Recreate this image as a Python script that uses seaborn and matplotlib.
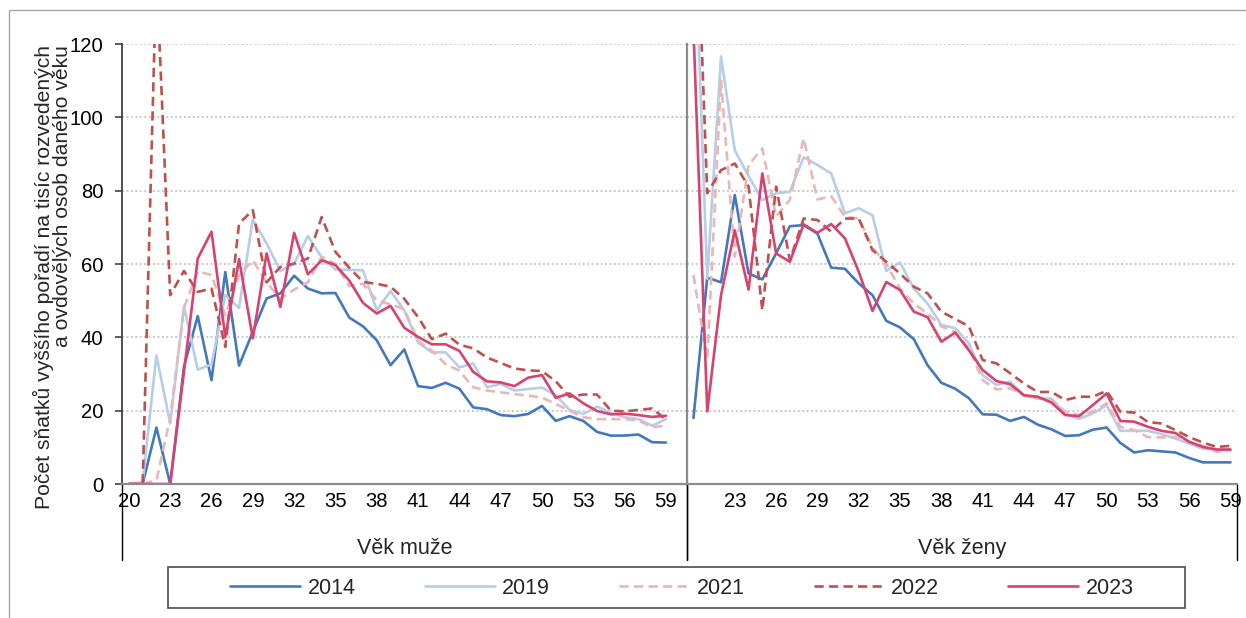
# Remarriage rates of divorced and widowed persons by age, men vs women
import matplotlib.pyplot as plt
import matplotlib.patches as mpatches
import pandas as pd
import seaborn as sns

ages = list(range(20, 60))
years = ['2014', '2019', '2021', '2022', '2023']

# values (per 1000 divorced/widowed persons)
men_2014 = [0, 0, 15.4, 0, 32, 45.8, 28.3, 57.8, 32.3, 41.5,
            50.6, 52, 56.8, 53.3, 52, 52.1, 45.4, 43, 39.2, 32.4,
            36.7, 26.7, 26.2, 27.6, 26, 20.9, 20.4, 18.8, 18.5, 19.1,
            21.3, 17.2, 18.5, 17.2, 14.2, 13.2, 13.2, 13.5, 11.4, 11.3]
men_2019 = [0, 0.5, 35.1, 16.5, 48.5, 31.2, 32.6, 51.5, 48, 72.1,
            65.6, 58.1, 60.1, 67.6, 61.8, 58.5, 58.4, 58.3, 47.4, 52.6,
            47.3, 38.6, 35.9, 35.9, 31.8, 32.9, 26.4, 27.3, 25.5, 25.9,
            26.3, 24.2, 20.2, 19.1, 21.1, 19.4, 18.2, 17.7, 15.9, 17.7]
men_2021 = [0, 0, 1, 18, 48, 58, 57, 46, 57, 61,
            55, 50.5, 53, 55, 62, 60, 54, 54.6, 50.1, 49,
            47.7, 39, 36.4, 32.7, 30.9, 26.4, 25.5, 25, 24.5, 24.1,
            23.6, 21.8, 20, 18.2, 17.7, 17.7, 17.7, 17.3, 15.5, 15.9]
men_2022 = [0, 0, 140, 51.5, 58.1, 52.4, 53.3, 37.4, 71, 74.7,
            55, 59.2, 60.1, 61.5, 72.8, 63.3, 59, 55.1, 54.6, 53.8,
            50.5, 45.5, 39.5, 41, 38, 37, 34.5, 33, 31.5, 31,
            30.8, 28, 23.8, 24.4, 24.4, 20, 19.8, 20.2, 20.6, 17.6]
men_2023 = [0, 0, 0, 0, 30.6, 61.5, 68.8, 40.1, 61.3, 39.7,
            62.9, 48.3, 68.5, 57.2, 61, 59.7, 55.5, 49.4, 46.5, 48.6,
            42.6, 40.1, 38.1, 38.1, 36.3, 30.6, 28, 27.7, 26.7, 29,
            29.7, 23.5, 24.7, 22, 19.9, 19, 19.2, 18.8, 18.3, 18.6]

women_2014 = [18, 56.3, 55, 78.8, 57.4, 55.8, 62.9, 70.3, 70.6, 68.3,
              59, 58.7, 54.7, 51.5, 44.5, 42.7, 39.5, 32.4, 27.6, 26,
              23.4, 19, 18.9, 17.2, 18.3, 16.2, 14.9, 13.1, 13.3, 14.8,
              15.4, 11.2, 8.6, 9.2, 8.9, 8.6, 7.1, 5.9, 5.9, 5.9]
women_2019 = [160, 56, 116.6, 91, 84, 77.4, 79.3, 79.7, 89.1, 87,
              84.7, 73.8, 75.2, 73.3, 58.1, 60.4, 53.3, 49.2, 43.4, 42.5,
              38.4, 29.7, 27, 27.9, 24.2, 23.3, 23.3, 19.2, 17.8, 19.2,
              21.5, 14.5, 14.5, 14.5, 13.6, 12.4, 11, 9.6, 9.4, 9.2]
women_2021 = [57, 34, 110, 62, 87, 91.5, 73, 77.5, 94.3, 77.6,
              78.5, 72.9, 72.4, 64.5, 60, 53.3, 49.2, 46.5, 43, 41.5,
              37, 28.3, 25.8, 26.1, 24.2, 23.3, 22.9, 19.7, 18.8, 19.7,
              22, 15.6, 14.7, 12.8, 12.7, 12.8, 11.5, 10.4, 8.7, 9.6]
women_2022 = [180, 79.3, 85.6, 87.4, 81.1, 47.4, 81.1, 61, 72.4, 72,
              68.8, 72.4, 72.4, 63.8, 60.6, 57.4, 53.8, 52, 47, 45,
              43, 33.8, 32.9, 30.2, 27.4, 25.1, 25.1, 22.9, 23.8, 23.8,
              25.4, 19.7, 19.5, 16.9, 16.5, 14.7, 12.8, 11.3, 10.1, 10.4]
women_2023 = [124, 19.8, 51.5, 69.2, 53, 84.7, 62.9, 60.6, 70.8, 68.5,
              70.9, 67, 57.9, 47.2, 55.1, 52.9, 47, 45.5, 38.8, 41.3,
              36.5, 31.1, 28.1, 27.2, 24.2, 23.8, 22.2, 18.8, 18.5, 21.5,
              24.7, 17.2, 17, 15.6, 14.5, 13.9, 11.5, 10.1, 9.4, 9.4]

men_ticks = list(range(20, 60, 3))
women_ticks = list(range(23, 60, 3))

ylabel_lines = ['Počet sňatků vyššího pořadí na tisíc rozvedených',
                'a ovdovělých osob daného věku']

colors = {'2014': '#4478BE', '2019': '#B7CDE8', '2021': '#E8B7B6',
          '2022': '#C0504D', '2023': '#D8426F'}
dash_styles = {'2014': '', '2019': '', '2021': (3.5, 2), '2022': (3.5, 2), '2023': ''}


def long_frame(series):
    """Turn {year: values} into a long dataframe for seaborn."""
    rows = []
    for year, values in series.items():
        for age, v in zip(ages, values):
            rows.append({'age': age, 'value': v, 'year': year})
    return pd.DataFrame(rows)


men = long_frame(dict(zip(years, [men_2014, men_2019, men_2021, men_2022, men_2023])))
women = long_frame(dict(zip(years, [women_2014, women_2019, women_2021, women_2022, women_2023])))

sns.set_style('white')
plt.rcParams['font.family'] = ['Liberation Sans', 'DejaVu Sans']

W, H = 1246, 618
fig = plt.figure(figsize=(W / 100, H / 100), dpi=100)
ax_m = fig.add_axes([122 / W, 1 - 484 / H, 564.6 / W, 440 / H])
ax_w = fig.add_axes([686.6 / W, 1 - 484 / H, 550.8 / W, 440 / H])

for ax, df, xmax, ticks in [(ax_m, men, 60.5, men_ticks), (ax_w, women, 59.5, women_ticks)]:
    sns.lineplot(data=df, x='age', y='value', hue='year', style='year',
                 hue_order=years, style_order=years, palette=colors, dashes=dash_styles,
                 linewidth=1.9, errorbar=None, legend=False, ax=ax)
    ax.set_xlim(19.5, xmax)
    ax.set_ylim(0, 120)
    ax.set_xticks(ticks)
    ax.set_yticks(range(0, 121, 20))
    ax.set_xlabel('')
    ax.set_ylabel('')
    ax.grid(axis='y', linestyle=(0, (1.3, 1.6)), color='#BDBDBD', linewidth=1.1)
    ax.set_axisbelow(True)
    for side in ['top', 'right']:
        ax.spines[side].set_visible(False)
    ax.spines['bottom'].set_color('#8C8C8C')
    ax.spines['bottom'].set_linewidth(1.6)
    ax.tick_params(axis='x', length=0, pad=5.5, labelsize=14.6, labelcolor='black')
    ax.patch.set_alpha(0)
    # group separators below the axis
    for xpos in [0, 1]:
        ax.plot([xpos, xpos], [0, -0.172], transform=ax.transAxes, color='black',
                linewidth=1, clip_on=False)

ax_m.spines['left'].set_color('#404040')
ax_m.spines['left'].set_linewidth(1.3)
ax_m.tick_params(axis='y', length=5, width=1.2, color='#404040', pad=8.5,
                 labelsize=14.6, labelcolor='black', left=True)
ax_w.spines['left'].set_color('#8C8C8C')
ax_w.spines['left'].set_linewidth(1.6)
ax_w.tick_params(axis='y', left=False, labelleft=False)

ax_m.text(0.5, -0.1455, 'Věk muže', transform=ax_m.transAxes, ha='center', va='center',
          fontsize=15.5)
ax_w.text(0.5, -0.1455, 'Věk ženy', transform=ax_w.transAxes, ha='center', va='center',
          fontsize=15.5)

# y label: two lines, both ending at the top of the plot
for xc, line in zip([43, 63], ylabel_lines):
    fig.text(xc / W, 1 - 45 / H, line, rotation=90, ha='center', va='top', fontsize=15.2)

# legend without frame + separate box like the original
handles = [plt.Line2D([0], [0], color=colors[y], linewidth=1.9,
                      linestyle=(0, dash_styles[y]) if dash_styles[y] else '-')
           for y in years]
fig.legend(handles, years, loc='center', bbox_to_anchor=(682 / W, 1 - 588 / H), ncol=5,
           frameon=False, fontsize=15.5, handlelength=3.25, handletextpad=0.35,
           columnspacing=3.2)
fig.add_artist(mpatches.Rectangle((168 / W, 1 - 608 / H), 1017 / W, 41 / H,
                                  transform=fig.transFigure, fill=False,
                                  edgecolor='#595959', linewidth=1.3))

# chart area border
fig.add_artist(mpatches.Rectangle((9 / W, -0.1), 1.2, 1.1 - 10 / H,
                                  transform=fig.transFigure, fill=False,
                                  edgecolor='#A6A6A6', linewidth=1))

fig.savefig('out.png', dpi=100)
